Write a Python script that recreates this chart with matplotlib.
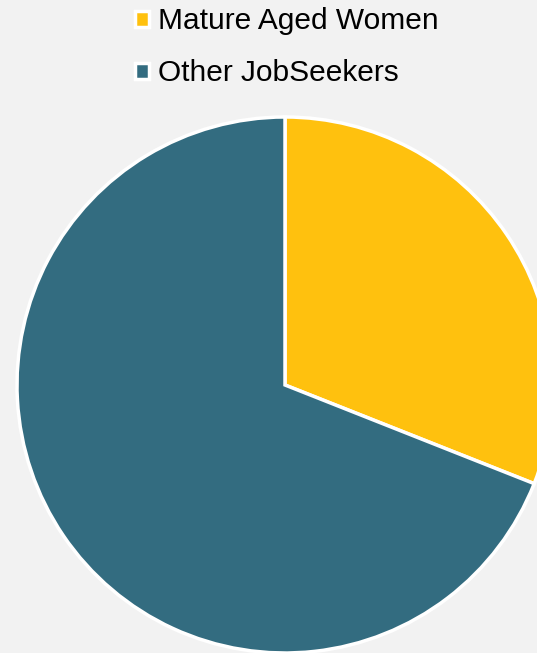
import matplotlib.pyplot as plt

# Data
labels = ["Mature Aged Women", "Other JobSeekers"]
shares = [31, 69]
colors = ["#FFC10E", "#336C80"]

W, H = 537, 653
fig = plt.figure(figsize=(W / 100, H / 100), dpi=100)
fig.patch.set_facecolor("#F2F2F2")
ax = fig.add_axes([0, 0, 1, 1])
ax.set_facecolor("#F2F2F2")

wedges, _ = ax.pie(shares, colors=colors, startangle=90, counterclock=False,
                   center=(285, H - 385), radius=268,
                   wedgeprops=dict(edgecolor="white", linewidth=2.5))
ax.set_xlim(0, W)
ax.set_ylim(0, H)
ax.set_aspect("equal")
ax.axis("off")

leg = ax.legend(wedges, labels, loc="upper left", bbox_to_anchor=(134 / W, 1 - 6 / H),
                bbox_transform=fig.transFigure, frameon=False,
                prop=dict(family="Liberation Sans", size=21.5),
                handlelength=0.45, handleheight=0.45, handletextpad=0.3,
                labelspacing=0.8, borderaxespad=0.0, borderpad=0.05)

fig.savefig("out.png", dpi=100, facecolor=fig.get_facecolor())
